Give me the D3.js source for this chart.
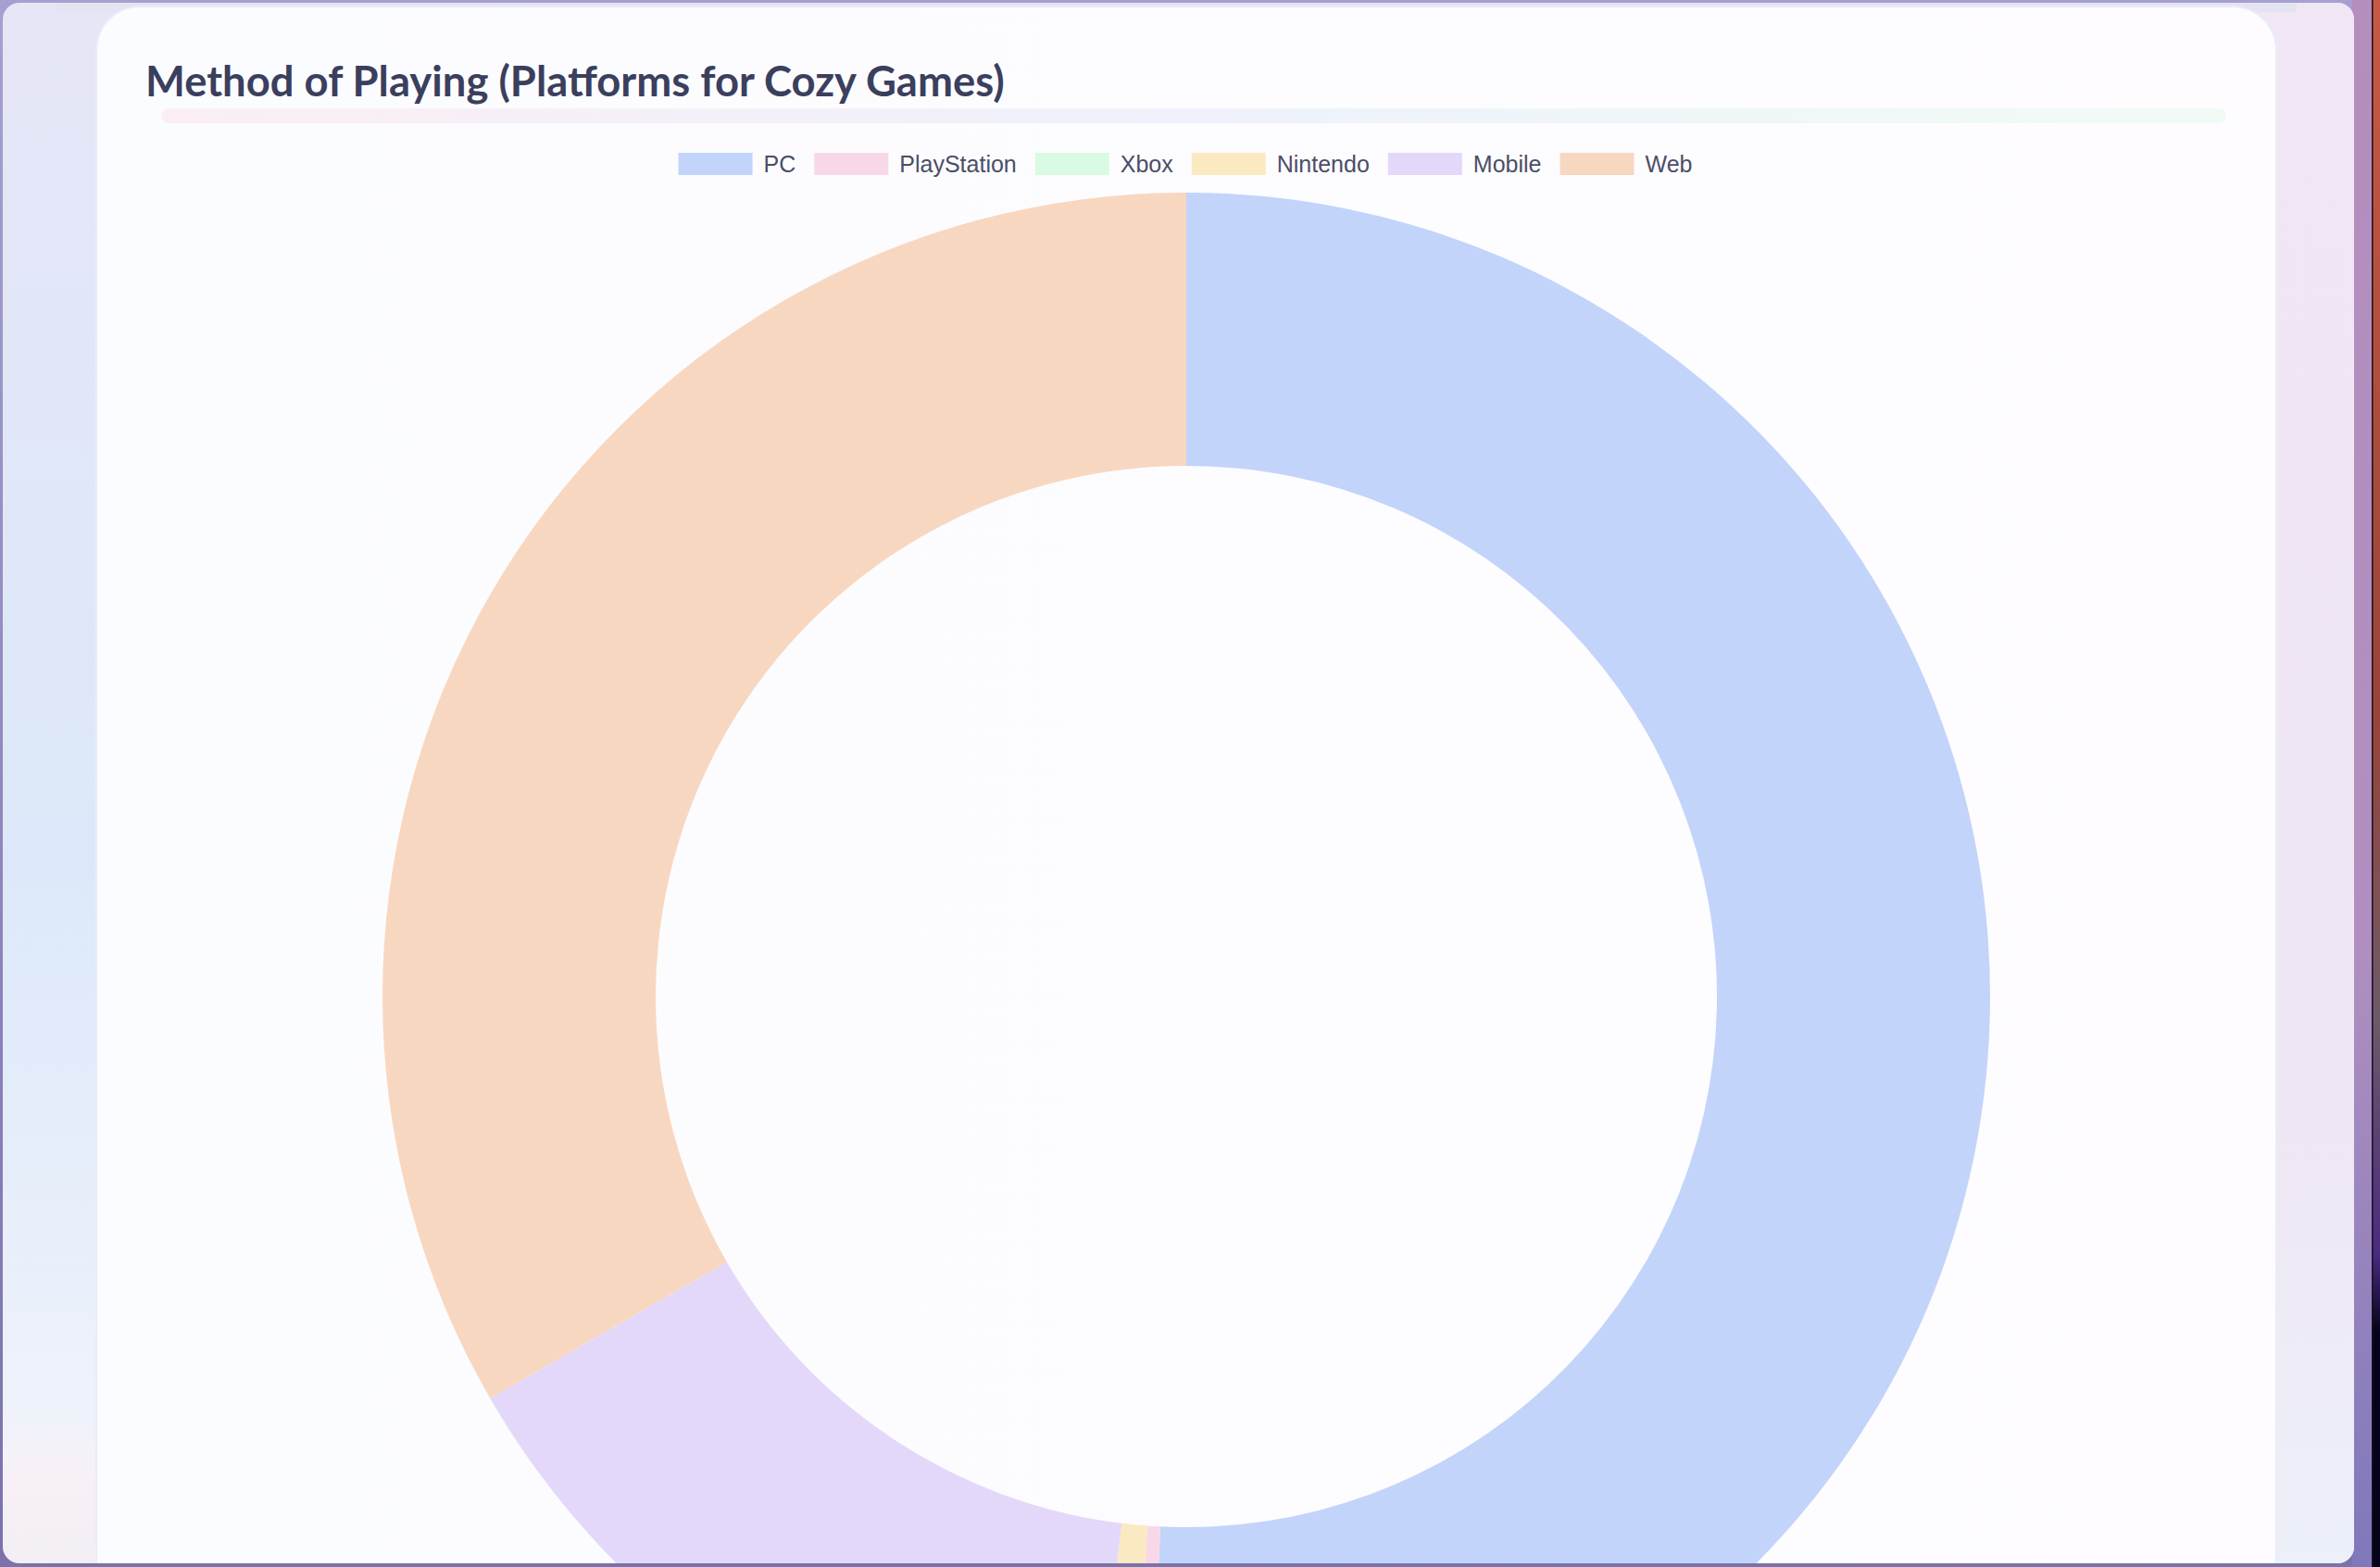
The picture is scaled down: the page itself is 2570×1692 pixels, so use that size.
<!DOCTYPE html>
<html>
<head>
<meta charset="utf-8">
<script src="https://cdn.jsdelivr.net/npm/d3@7"></script>
<style>
  html, body { margin: 0; padding: 0; width: 2570px; height: 1692px; overflow: hidden; background: #7a72aa; }
  svg { display: block; }
</style>
</head>
<body>
<svg id="chart" width="2570" height="1692"></svg>
<script>
// ---- data ----
const categories = ["PC", "PlayStation", "Xbox", "Nintendo", "Mobile", "Web"];
const values = [131, 1, 0, 2, 38, 86];
const colors = ["#c2d4fa", "#f8d8e8", "#d9fbe3", "#fbe9c1", "#e4d8fa", "#f8d7c1"];
const titleText = "Method of Playing (Platforms for Cozy Games)";

const W = 2570, H = 1692;
const svg = d3.select("#chart");
const defs = svg.append("defs");

// background gradients
const bgGrad = defs.append("linearGradient").attr("id", "bodyGrad").attr("x1", 0).attr("y1", 0).attr("x2", 0).attr("y2", 1);
bgGrad.append("stop").attr("offset", "0%").attr("stop-color", "#a69fd0");
bgGrad.append("stop").attr("offset", "100%").attr("stop-color", "#7a72aa");

const wall = defs.append("linearGradient").attr("id", "wallGrad").attr("x1", 0).attr("y1", 0).attr("x2", 0).attr("y2", 1);
wall.append("stop").attr("offset", "0%").attr("stop-color", "#c65a44");
wall.append("stop").attr("offset", "45%").attr("stop-color", "#9a4436");
wall.append("stop").attr("offset", "65%").attr("stop-color", "#6c5a6a");
wall.append("stop").attr("offset", "80%").attr("stop-color", "#4a2a80");
wall.append("stop").attr("offset", "85%").attr("stop-color", "#05031a");
wall.append("stop").attr("offset", "100%").attr("stop-color", "#05031a");

const rightGrad = defs.append("linearGradient").attr("id", "rightGrad").attr("x1", 0).attr("y1", 0).attr("x2", 0).attr("y2", 1);
rightGrad.append("stop").attr("offset", "0%").attr("stop-color", "#b48ebd");
rightGrad.append("stop").attr("offset", "60%").attr("stop-color", "#b08fc0");
rightGrad.append("stop").attr("offset", "100%").attr("stop-color", "#7f78bb");

const panelGrad = defs.append("linearGradient").attr("id", "panelGrad").attr("x1", 0).attr("y1", 0).attr("x2", 0).attr("y2", 1);
panelGrad.append("stop").attr("offset", "0%").attr("stop-color", "#e5e6f6");
panelGrad.append("stop").attr("offset", "55%").attr("stop-color", "#dce8f9");
panelGrad.append("stop").attr("offset", "90%").attr("stop-color", "#eef2fb");
panelGrad.append("stop").attr("offset", "94%").attr("stop-color", "#f7f1f7");
panelGrad.append("stop").attr("offset", "100%").attr("stop-color", "#f3eef4");

const panelRight = defs.append("linearGradient").attr("id", "panelRight").attr("x1", 0).attr("y1", 0).attr("x2", 0).attr("y2", 1);
panelRight.append("stop").attr("offset", "0%").attr("stop-color", "#f1e7f4");
panelRight.append("stop").attr("offset", "70%").attr("stop-color", "#efe6f3");
panelRight.append("stop").attr("offset", "100%").attr("stop-color", "#ecf0f9");

const barGrad = defs.append("linearGradient").attr("id", "barGrad").attr("x1", 0).attr("y1", 0).attr("x2", 1).attr("y2", 0);
barGrad.append("stop").attr("offset", "0%").attr("stop-color", "#fbeef5");
barGrad.append("stop").attr("offset", "50%").attr("stop-color", "#eef1fb");
barGrad.append("stop").attr("offset", "100%").attr("stop-color", "#f1fbf5");

const cardGrad = defs.append("linearGradient").attr("id", "cardGrad").attr("x1", 0).attr("y1", 0).attr("x2", 1).attr("y2", 0);
cardGrad.append("stop").attr("offset", "0%").attr("stop-color", "#fbfcff");
cardGrad.append("stop").attr("offset", "100%").attr("stop-color", "#fefcff");

// body background
svg.append("rect").attr("width", W).attr("height", H).attr("fill", "url(#bodyGrad)");
svg.append("rect").attr("x", 2540).attr("y", 0).attr("width", 22).attr("height", H).attr("fill", "url(#rightGrad)");
svg.append("rect").attr("x", 2562).attr("y", 0).attr("width", 8).attr("height", H).attr("fill", "url(#wallGrad)");
svg.append("rect").attr("x", 2561).attr("y", 0).attr("width", 1.5).attr("height", H).attr("fill", "#1a1020");

// outer panel
svg.append("rect").attr("x", 3).attr("y", 3).attr("width", 2539).attr("height", 1685).attr("rx", 18)
  .attr("fill", "url(#panelGrad)");
svg.append("rect").attr("x", 2440).attr("y", 3).attr("width", 102).attr("height", 1685).attr("rx", 18)
  .attr("fill", "url(#panelRight)");
svg.append("rect").attr("x", 60).attr("y", 3).attr("width", 2420).attr("height", 10).attr("fill", "#e4e3f1");

// card
const cardX = 105, cardY = 8, cardW = 2352, cardR = 46;
const clip = defs.append("clipPath").attr("id", "panelClip");
clip.append("rect").attr("x", 3).attr("y", 3).attr("width", 2539).attr("height", 1685).attr("rx", 18);
const cardG = svg.append("g").attr("clip-path", "url(#panelClip)");
cardG.append("rect").attr("x", cardX - 2).attr("y", cardY - 2).attr("width", cardW + 4).attr("height", 1800)
  .attr("rx", cardR + 2).attr("fill", "#e9ecfa");
cardG.append("rect").attr("x", cardX).attr("y", cardY).attr("width", cardW).attr("height", 1800)
  .attr("rx", cardR).attr("fill", "url(#cardGrad)");

// title
const title = svg.append("text")
  .attr("x", 157).attr("y", 104)
  .attr("font-family", "Lato, 'Noto Sans', sans-serif")
  .attr("font-weight", 700)
  .attr("font-size", 40)
  .attr("fill", "#3b3f5e")
  .text(titleText);
const tw = title.node().getComputedTextLength();
title.attr("font-size", 40 * 928 / tw);

// title underline bar
svg.append("rect").attr("x", 174).attr("y", 117).attr("width", 2230).attr("height", 16).attr("rx", 8)
  .attr("fill", "url(#barGrad)");

// donut
const cx = 1281, cy = 1076, outerR = 868, innerR = 573;
const pie = d3.pie().sort(null).value(d => d.value);
const arcs = pie(categories.map((c, i) => ({ name: c, value: values[i], color: colors[i] })));
const arc = d3.arc().innerRadius(innerR).outerRadius(outerR);
const color = d3.scaleOrdinal().domain(categories).range(colors);

cardG.append("g").attr("transform", `translate(${cx},${cy})`)
  .selectAll("path").data(arcs).join("path")
  .attr("d", arc)
  .attr("fill", d => color(d.data.name));

// legend
const legendFont = 25, boxW = 80, boxH = 24, gap = 20;
const legendG = svg.append("g");
const items = legendG.selectAll("g").data(categories).join("g");
items.append("rect").attr("width", boxW).attr("height", boxH).attr("y", 165)
  .attr("fill", d => color(d));
items.append("text").attr("x", boxW + 12).attr("y", 186)
  .attr("font-family", "'Liberation Sans', Arial, sans-serif")
  .attr("font-size", legendFont)
  .attr("fill", "#4b4e66")
  .text(d => d);
const widths = [];
items.each(function () {
  const t = d3.select(this).select("text").node().getComputedTextLength();
  widths.push(boxW + 12 + t);
});
const total = d3.sum(widths) + gap * (widths.length - 1);
let xPos = 1280 - total / 2;
items.attr("transform", (d, i) => {
  const x = xPos;
  xPos += widths[i] + gap;
  return `translate(${x},0)`;
});
</script>
</body>
</html>
